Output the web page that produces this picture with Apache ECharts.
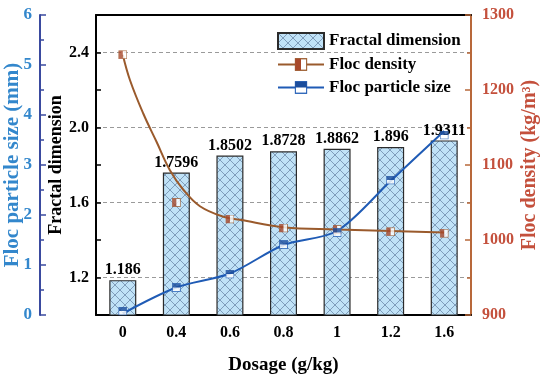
<!DOCTYPE html>
<html><head><meta charset="utf-8">
<script src="https://cdn.jsdelivr.net/npm/echarts@6/dist/echarts.min.js"></script>
<style>html,body{margin:0;padding:0;background:#fff}#c{width:550px;height:382px}</style>
</head><body><div id="c"></div>
<script>
const categories = ['0', '0.4', '0.6', '0.8', '1', '1.2', '1.6'];
const fractalDimension = [1.186, 1.7596, 1.8502, 1.8728, 1.8862, 1.896, 1.9311];
const flocDensity = [1247, 1050, 1028, 1016, 1014, 1011, 1009];
const flocParticleSize = [0.08, 0.55, 0.82, 1.41, 1.65, 2.70, 3.60];
// fitted curves (x = category position)
const densityFitX = [0, 0.135, 0.38, 0.63, 0.88, 1.13, 1.44, 1.88, 2.19, 3, 4, 5, 6];
const densityFitY = [1247, 1213, 1169, 1131, 1093, 1067, 1045, 1031, 1027, 1017, 1014, 1012, 1010];
const sizeFitX = [0, 1, 2, 3, 4, 5, 6];
const sizeFitY = [0.03, 0.55, 0.83, 1.40, 1.68, 2.68, 3.68];
const fractalTickLabels = [1.2, 1.6, 2.0, 2.4];

const FONT = "'Liberation Serif','Times New Roman',serif";
const DENS_LINE = '#9a5a2c', DENS_AXIS = '#b8683a', DENS_TEXT = '#c4503c';
const SIZE_LINE = '#1f5bb5', SIZE_AXIS = '#3a4a9f', SIZE_TEXT = '#3387cc';

function hatch() {
  const c = document.createElement('canvas');
  c.width = 10; c.height = 10;
  const g = c.getContext('2d');
  g.fillStyle = '#c0e2f7'; g.fillRect(0, 0, 10, 10);
  g.strokeStyle = '#6f8cab'; g.lineWidth = 0.8;
  g.beginPath();
  g.moveTo(-1, -1); g.lineTo(11, 11);
  g.moveTo(11, -1); g.lineTo(-1, 11);
  g.stroke();
  return c;
}
const svgUri = s => 'image://data:image/svg+xml;charset=utf-8,' + encodeURIComponent(s);
const densSym = svgUri('<svg xmlns="http://www.w3.org/2000/svg" width="20" height="20" viewBox="0 0 20 20"><rect x="1" y="1" width="18" height="18" fill="#fff" stroke="' + DENS_LINE + '" stroke-width="2"/><rect x="1" y="1" width="9" height="18" fill="#a8482a"/></svg>');
const sizeSym = svgUri('<svg xmlns="http://www.w3.org/2000/svg" width="20" height="20" viewBox="0 0 20 20"><rect x="1" y="1" width="18" height="18" fill="#fff" stroke="' + SIZE_LINE + '" stroke-width="2"/><rect x="1" y="1" width="18" height="9" fill="#1b4d9c"/></svg>');

const chart = echarts.init(document.getElementById('c'));
const boldText = (size, color) => ({ fontFamily: FONT, fontWeight: 'bold', fontSize: size, color: color || '#000' });

chart.setOption({
  animation: false,
  backgroundColor: '#fff',
  grid: [
    { left: 96, right: 79, top: 15, bottom: 67, containLabel: false, outerBoundsMode: 'none' },
    { left: 96, right: 79, top: 52.5, bottom: 104.5, containLabel: false, outerBoundsMode: 'none' }
  ],
  legend: {
    orient: 'vertical', left: 272, top: 27, itemWidth: 46, itemHeight: 16, itemGap: 6,
    textStyle: boldText(17),
    data: [{ name: 'Fractal dimension', icon: 'rect' }, 'Floc density', 'Floc particle size']
  },
  xAxis: [
    { type: 'category', data: categories, position: 'bottom', gridIndex: 0,
      axisLine: { onZero: false, lineStyle: { color: '#000', width: 2 } },
      axisTick: { inside: true, alignWithLabel: true, length: 5, lineStyle: { color: '#000', width: 1.5 } },
      axisLabel: Object.assign({ margin: 10 }, boldText(16)),
      name: 'Dosage (g/kg)', nameLocation: 'middle', nameGap: 41, nameMoveOverlap: false, nameTextStyle: boldText(19) },
    { type: 'category', data: categories, position: 'bottom', gridIndex: 0,
      axisLine: { show: false, onZero: false }, axisLabel: { show: false },
      axisTick: { inside: true, length: 3, lineStyle: { color: '#000', width: 1.5 } } },
    { type: 'value', min: -0.5, max: 6.5, position: 'top', gridIndex: 0,
      axisLine: { onZero: false, lineStyle: { color: '#000', width: 2 } },
      axisTick: { show: false }, axisLabel: { show: false }, splitLine: { show: false } },
    { type: 'value', min: 0, max: 1, gridIndex: 1, show: false }
  ],
  yAxis: [
    { type: 'value', min: 1.0, max: 2.6, interval: 0.2, position: 'left', gridIndex: 0,
      axisLine: { show: true, onZero: false, lineStyle: { color: '#000', width: 2 } },
      axisTick: { show: true, inside: true, length: 5, lineStyle: { color: '#000', width: 1.5 } },
      axisLabel: Object.assign({ margin: 7, showMinLabel: true, showMaxLabel: true,
        formatter: v => fractalTickLabels.some(t => Math.abs(t - v) < 1e-6) ? v.toFixed(1) : '' }, boldText(16)),
      splitLine: { show: false },
      name: 'Fractal dimension', nameLocation: 'middle', nameGap: 31, nameRotate: 90, nameMoveOverlap: false, nameTextStyle: boldText(18) },
    { type: 'value', min: 900, max: 1300, interval: 100, position: 'right', gridIndex: 0,
      axisLine: { show: true, onZero: false, lineStyle: { color: DENS_AXIS, width: 2 } },
      axisTick: { show: true, inside: true, length: 6, lineStyle: { color: DENS_AXIS, width: 1.5 } },
      minorTick: { show: true, splitNumber: 2, length: 4, lineStyle: { color: DENS_AXIS, width: 1.5 } },
      axisLabel: Object.assign({ margin: 11, formatter: v => String(v) }, boldText(16, DENS_TEXT)),
      splitLine: { show: false },
      name: 'Floc density (kg/m³)', nameLocation: 'middle', nameGap: 49, nameRotate: 90, nameMoveOverlap: false, nameTextStyle: boldText(20, DENS_TEXT) },
    { type: 'value', min: 0, max: 6, interval: 1, position: 'left', offset: 56, gridIndex: 0,
      axisLine: { show: true, onZero: false, lineStyle: { color: SIZE_AXIS, width: 2 } },
      axisTick: { show: true, inside: true, length: 6, lineStyle: { color: SIZE_AXIS, width: 1.5 } },
      minorTick: { show: true, splitNumber: 2, length: 4, lineStyle: { color: SIZE_AXIS, width: 1.5 } },
      axisLabel: Object.assign({ margin: 8 }, boldText(17, SIZE_TEXT)),
      splitLine: { show: false },
      name: 'Floc particle size (mm)', nameLocation: 'middle', nameGap: 17, nameRotate: 90, nameMoveOverlap: false, nameTextStyle: boldText(21, SIZE_TEXT) },
    { type: 'value', min: 1.2, max: 2.4, interval: 0.4, gridIndex: 1,
      axisLine: { show: false }, axisTick: { show: false }, axisLabel: { show: false },
      splitLine: { show: true, lineStyle: { color: '#9a9a9a', width: 1, type: [4, 3] } } }
  ],
  series: [
    { name: 'Fractal dimension', type: 'bar', xAxisIndex: 0, yAxisIndex: 0, barWidth: 27, z: 2,
      data: fractalDimension,
      itemStyle: { color: { image: hatch(), repeat: 'repeat' }, borderColor: '#2b2b2b', borderWidth: 1.2 },
      label: Object.assign({ show: true, position: 'top', distance: 2, formatter: p => String(p.value) }, boldText(16)) },
    { name: 'Floc density', type: 'line', xAxisIndex: 2, yAxisIndex: 1, z: 3,
      data: densityFitX.map((x, i) => [x, densityFitY[i]]), smooth: 0.4,
      symbol: densSym, symbolSize: 9, showSymbol: false,
      lineStyle: { color: DENS_LINE, width: 2 }, itemStyle: { color: DENS_LINE } },
    { name: 'Floc particle size', type: 'line', xAxisIndex: 2, yAxisIndex: 2, z: 3,
      data: sizeFitX.map((x, i) => [x, sizeFitY[i]]), smooth: 0.3,
      symbol: sizeSym, symbolSize: 9, showSymbol: false,
      lineStyle: { color: SIZE_LINE, width: 2 }, itemStyle: { color: SIZE_LINE } },
    { name: 'Floc density', type: 'scatter', xAxisIndex: 0, yAxisIndex: 1, z: 4,
      data: flocDensity, symbol: densSym, symbolSize: 9 },
    { name: 'Floc particle size', type: 'scatter', xAxisIndex: 0, yAxisIndex: 2, z: 4,
      data: flocParticleSize, symbol: sizeSym, symbolSize: 9 }
  ]
});
</script></body></html>
